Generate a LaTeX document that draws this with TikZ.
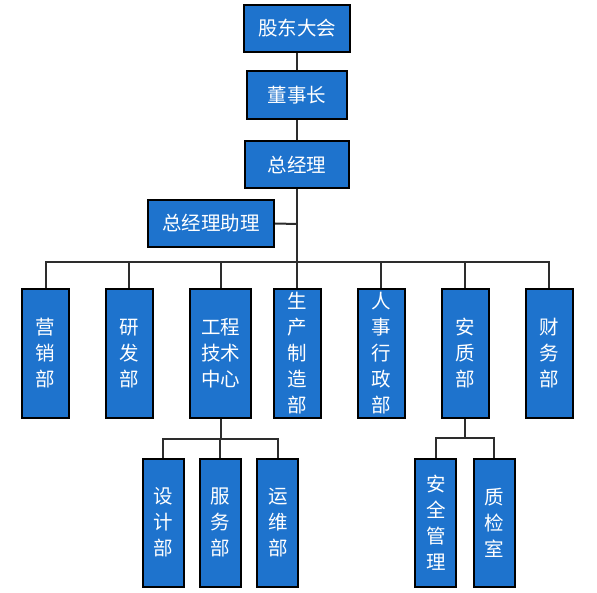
\documentclass[tikz,border=0pt]{standalone}
\usepackage{fontspec}
\setmainfont{Noto Sans CJK SC}
\definecolor{boxblue}{RGB}{30,115,205}
\definecolor{linegray}{RGB}{45,45,45}
\begin{document}
\begin{tikzpicture}[x=1pt,y=-1pt,
  box/.style={draw=black,line width=2pt,fill=boxblue,text=white,inner sep=0pt,
    font=\fontsize{19.5}{26}\selectfont,align=center},
  hbox/.style={box,minimum height=47pt},
  vbox/.style={box,minimum width=47pt,minimum height=129pt},
  sbox/.style={box,minimum width=41pt,minimum height=128pt},
  conn/.style={draw=linegray,line width=2pt}]
\useasboundingbox (0,0) rectangle (597,593);
\coordinate (bus) at (297,262.3);
\coordinate (zlj) at (297,224);
\coordinate (gcbus) at (220.7,438.7);
\coordinate (azbus) at (465.3,438.3);
\node[hbox,minimum width=106pt] (gd) at (297,28.5) {股东大会};
\node[hbox,minimum width=100pt,minimum height=48pt] (dsz) at (297,95) {董事长};
\node[hbox,minimum width=104pt] (zjl) at (297,164.5) {总经理};
\node[hbox,minimum width=126pt] (zl) at (211,223.5) {总经理助理};
\node[vbox] (yx) at (45.5,353.5) {营\\销\\部};
\node[vbox] (yf) at (129.3,353.5) {研\\发\\部};
\node[vbox,minimum width=61pt] (gc) at (220.7,353.5) {工程\\技术\\中心};
\node[vbox] (sc) at (297,353.5) {生\\产\\制\\造\\部};
\node[vbox] (rs) at (381.3,353.5) {人\\事\\行\\政\\部};
\node[vbox] (az) at (465.3,353.5) {安\\质\\部};
\node[vbox] (cw) at (549.3,353.5) {财\\务\\部};
\node[sbox] (sj) at (163,522.5) {设\\计\\部};
\node[sbox] (fw) at (220.3,522.5) {服\\务\\部};
\node[sbox] (yw) at (277.8,522.5) {运\\维\\部};
\node[sbox] (aq) at (435.8,522.5) {安\\全\\管\\理};
\node[sbox] (zj) at (494.3,522.5) {质\\检\\室};
\path[conn] (gd.south) -- (dsz.north);
\path[conn] (dsz.south) -- (zjl.north);
\path[conn] (zjl.south) -- (sc.north);
\path[conn] (zl.east) -- (zlj);
\path[conn] (bus) -| (yx.north);
\path[conn] (bus) -| (yf.north);
\path[conn] (bus) -| (gc.north);
\path[conn] (bus) -| (rs.north);
\path[conn] (bus) -| (az.north);
\path[conn] (bus) -| (cw.north);
\path[conn] (gc.south) -- (gcbus);
\path[conn] (gcbus) -| (sj.north);
\path[conn] (gcbus) -| (fw.north);
\path[conn] (gcbus) -| (yw.north);
\path[conn] (az.south) -- (azbus);
\path[conn] (azbus) -| (aq.north);
\path[conn] (azbus) -| (zj.north);
\end{tikzpicture}
\end{document}
